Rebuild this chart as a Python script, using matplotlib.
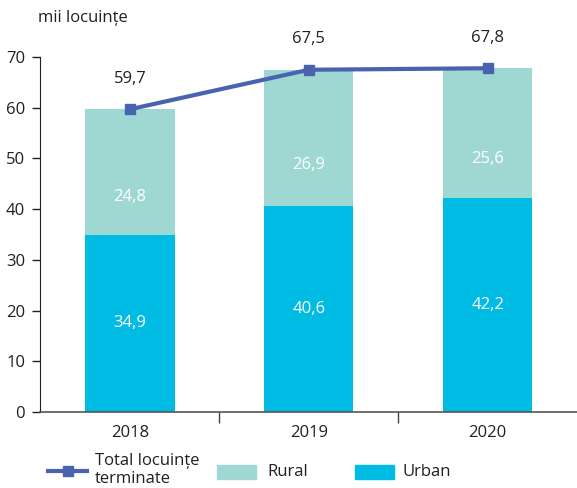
import matplotlib
matplotlib.use("Agg")
import matplotlib.pyplot as plt
import numpy as np
from matplotlib.lines import Line2D
from matplotlib.patches import Rectangle

plt.rcParams['font.family'] = ['Open Sans', 'DejaVu Sans']

years = ["2018", "2019", "2020"]
urban = [34.9, 40.6, 42.2]
rural = [24.8, 26.9, 25.6]
total = [59.7, 67.5, 67.8]
urban_labels = ["34,9", "40,6", "42,2"]
rural_labels = ["24,8", "26,9", "25,6"]
total_labels = ["59,7", "67,5", "67,8"]
legend_labels = ["Total locuințe\nterminate", "Rural", "Urban"]

c_urban = "#00BCE4"
c_rural = "#9FD8D3"
c_line = "#4A63B0"
c_text = "#231F20"

W, H = 577, 488
fig = plt.figure(figsize=(W / 100, H / 100), dpi=100)
ax = fig.add_axes([0.070, 0.156, 0.930, 0.727])

x = np.arange(len(years))
ax.bar(x, urban, width=0.5, color=c_urban, zorder=2)
ax.bar(x, rural, width=0.5, bottom=urban, color=c_rural, zorder=2)
ax.plot(x, total, color=c_line, lw=3, marker="s", markersize=7, zorder=3)

fs = 12
for i in range(len(years)):
    ax.text(x[i], urban[i] * 0.5, urban_labels[i], color="white", ha="center",
            va="center", fontsize=fs)
    ax.text(x[i], urban[i] + rural[i] * 0.3, rural_labels[i], color="white",
            ha="center", va="center", fontsize=fs)
    ax.annotate(total_labels[i], (x[i], total[i]), xytext=(0, 22),
                textcoords="offset points", ha="center", va="center",
                fontsize=fs, color=c_text, annotation_clip=False)

ax.set_xlim(-0.5, 2.5)
ax.set_ylim(0, 70)
ax.set_yticks(range(0, 71, 10))
ax.tick_params(axis="y", direction="out", length=6, width=1, colors=c_text,
               labelsize=fs, pad=5)
ax.set_xticks([0.5, 1.5])
ax.set_xticklabels([])
ax.tick_params(axis="x", direction="out", length=8, width=1, color="#444444")
for i, yr in enumerate(years):
    ax.text(x[i], -2.6, yr, ha="center", va="top", fontsize=fs, color=c_text)

for s in ["top", "right"]:
    ax.spines[s].set_visible(False)
ax.spines["left"].set_color(c_text)
ax.spines["bottom"].set_color("#555555")
ax.spines["bottom"].set_linewidth(1.2)

fig.text(38 / W, 1 - 18 / H, "mii locuințe", fontsize=fs, color=c_text,
         va="center")

# legend drawn in figure pixel coordinates
def fx(px):
    return px / W

def fy(py):
    return 1 - py / H

ly = 471
fig.add_artist(Line2D([fx(48), fx(87)], [fy(ly), fy(ly)], color=c_line, lw=3,
                      transform=fig.transFigure))
fig.add_artist(Line2D([fx(67.5)], [fy(ly)], color=c_line, marker="s",
                      markersize=7, linestyle="none",
                      transform=fig.transFigure))
fig.text(fx(95), fy(470), legend_labels[0], fontsize=fs, color=c_text,
         va="center", ha="left", linespacing=1.1)
for px0, col, lab, tx in [(217, c_rural, legend_labels[1], 267),
                          (355, c_urban, legend_labels[2], 403)]:
    fig.add_artist(Rectangle((fx(px0), fy(479)), 39 / W, 14 / H, color=col,
                             transform=fig.transFigure))
    fig.text(fx(tx), fy(472), lab, fontsize=fs, color=c_text, va="center",
             ha="left")

fig.savefig("out.png", dpi=100)
